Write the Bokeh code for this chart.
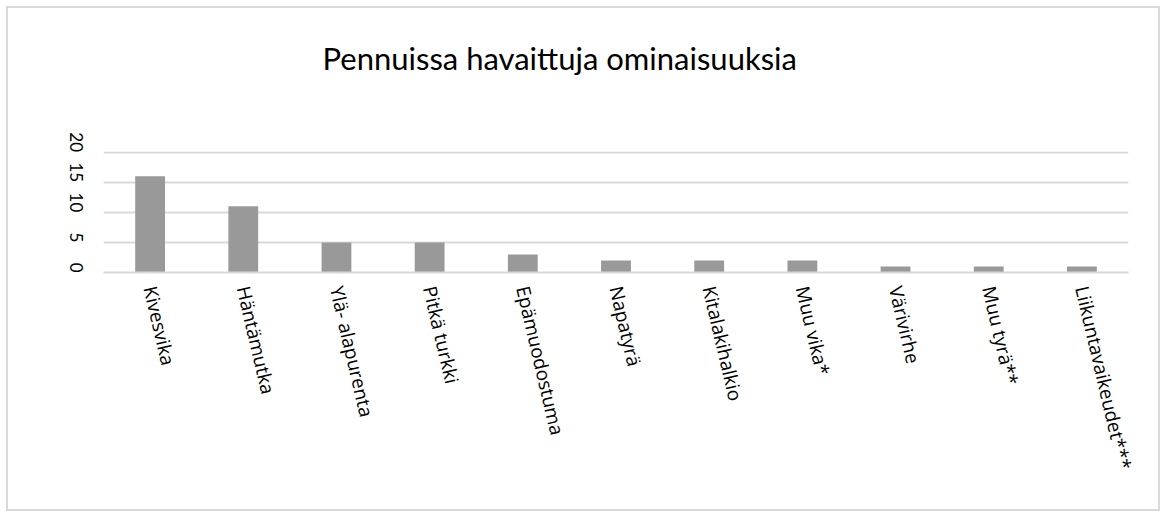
import math
from bokeh.plotting import figure
from bokeh.models import ColumnDataSource, FactorRange, Range1d, FixedTicker, Title
from bokeh.embed import file_html
from bokeh.resources import INLINE

categories = ["Kivesvika", "Häntämutka", "Ylä- alapurenta", "Pitkä turkki", "Epämuodostuma",
              "Napatyrä", "Kitalakihalkio", "Muu vika*", "Värivirhe", "Muu tyrä**",
              "Liikuntavaikeudet***"]
values = [16, 11, 5, 5, 3, 2, 2, 2, 1, 1, 1]
y_ticks = [0, 5, 10, 15, 20]
title_text = "Pennuissa havaittuja ominaisuuksia"

src = ColumnDataSource(dict(cat=categories, val=values))

p = figure(width=1154, height=505, output_backend="svg", toolbar_location=None,
           x_range=FactorRange(factors=categories), y_range=Range1d(0, 20.1),
           min_border_left=95, min_border_right=34, min_border_top=143, min_border_bottom=241,
           outline_line_color=None, background_fill_color="white", border_fill_color="white",
           styles={"border": "2px solid #d9d9d9", "margin-left": "6px", "margin-top": "6px"})
p.x_range.range_padding = 0

p.vbar(x="cat", top="val", width=0.32, source=src, fill_color="#999999", line_color=None)

spacer = Title(text=" ", text_font_size="2px", standoff=71)
p.add_layout(spacer, "above")
t = Title(text=title_text, text_font="Lato", text_font_size="31px",
          text_font_style="normal", text_color="#000000", align="left", offset=219,
          standoff=0)
p.add_layout(t, "above")

p.xgrid.grid_line_color = None
p.ygrid.grid_line_color = "#d9d9d9"
p.ygrid.grid_line_width = 2

p.yaxis.ticker = FixedTicker(ticks=y_ticks)
p.yaxis.axis_line_color = None
p.yaxis.major_tick_line_color = None
p.yaxis.minor_tick_line_color = None
p.yaxis.major_label_orientation = -math.pi / 2
p.yaxis.major_label_text_font = "Lato"
p.yaxis.major_label_text_font_size = "17px"
p.yaxis.major_label_text_color = "#000000"
p.yaxis.major_label_standoff = 21

p.xaxis.axis_line_color = "#d9d9d9"
p.xaxis.axis_line_width = 2
p.xaxis.major_tick_line_color = None
p.xaxis.minor_tick_line_color = None
p.xaxis.major_label_orientation = -1.34
p.xaxis.major_label_text_font = "Open Sans"
p.xaxis.major_label_text_font_size = "19px"
p.xaxis.major_label_text_color = "#000000"
p.xaxis.major_label_standoff = 8

open("out.html", "w").write(file_html(p, INLINE))
